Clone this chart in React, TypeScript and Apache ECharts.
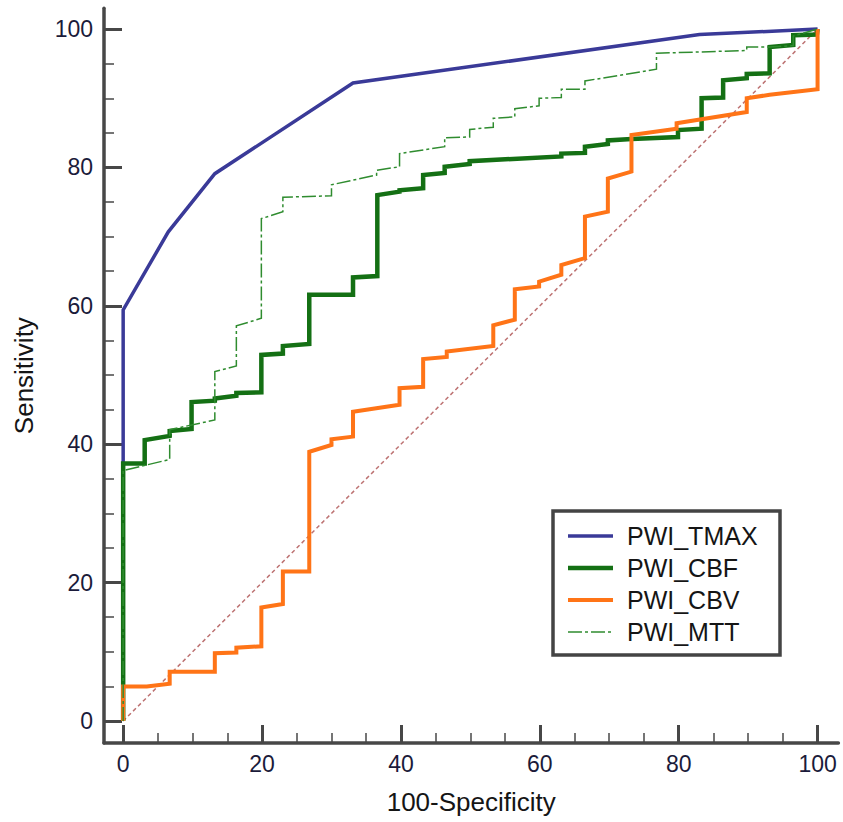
import React, { useEffect, useRef } from "react";
import * as echarts from "echarts";

const seriesNames = ["PWI_TMAX", "PWI_CBF", "PWI_CBV", "PWI_MTT"];
const majorTicks = [0, 20, 40, 60, 80, 100];
const minorTicks = [5, 10, 15, 25, 30, 35, 45, 50, 55, 65, 70, 75, 85, 90, 95];

const tmax: number[][] = [
  [0, 0], [0, 59.4], [6.5, 70.7], [13.2, 79.1], [33.1, 92.2], [83.0, 99.2], [100, 100],
];

const cbf: number[][] = [
  [0, 0], [0, 37.2], [3.1, 37.2], [3.1, 40.6], [6.7, 41.2], [6.7, 41.9], [9.85, 42.2],
  [9.85, 46.1], [13.2, 46.3], [13.2, 46.6], [16.3, 47.0], [16.3, 47.4], [19.9, 47.5],
  [19.9, 52.9], [23.0, 53.1], [23.0, 54.2], [26.8, 54.5], [26.8, 61.6], [33.1, 61.6],
  [33.1, 64.1], [36.6, 64.3], [36.6, 76.0], [39.8, 76.5], [39.8, 76.7], [43.2, 77.0],
  [43.2, 78.9], [46.3, 79.2], [46.3, 80.1], [49.9, 80.5], [49.9, 80.9], [63.1, 81.6],
  [63.1, 82.0], [66.5, 82.1], [66.5, 83.0], [69.8, 83.4], [69.8, 83.9], [73.2, 84.1],
  [79.9, 84.4], [79.9, 85.4], [83.3, 85.6], [83.3, 90.0], [86.4, 90.1], [86.4, 92.6],
  [89.8, 92.9], [89.8, 93.5], [93.1, 93.6], [93.1, 97.4], [96.5, 97.7], [96.5, 99.1],
  [99.9, 99.2], [100, 100],
];

const cbv: number[][] = [
  [0, 0], [0, 5.0], [3.4, 5.0], [6.7, 5.4], [6.7, 7.1], [13.2, 7.1], [13.2, 9.8],
  [16.3, 9.9], [16.3, 10.6], [19.9, 10.8], [19.9, 16.4], [23.0, 16.9], [23.0, 21.6],
  [26.8, 21.6], [26.8, 38.9], [30.0, 39.9], [30.0, 40.7], [33.1, 41.1], [33.1, 44.7],
  [39.8, 45.7], [39.8, 48.1], [43.2, 48.3], [43.2, 52.3], [46.6, 52.6], [46.6, 53.4],
  [53.3, 54.2], [53.3, 57.2], [56.4, 58.0], [56.4, 62.4], [59.9, 62.8], [59.9, 63.5],
  [63.1, 64.5], [63.1, 65.9], [66.5, 66.9], [66.5, 72.9], [69.8, 73.6], [69.8, 78.4],
  [73.2, 79.4], [73.2, 84.7], [79.7, 85.6], [79.7, 86.4], [89.8, 88.0], [89.8, 90.0],
  [93.1, 90.5], [100, 91.3], [100, 100],
];

const mtt: number[][] = [
  [0, 0], [0, 36.2], [6.7, 37.8], [6.7, 42.1], [13.2, 43.5], [13.2, 50.5], [16.3, 51.3],
  [16.3, 57.1], [19.9, 58.2], [19.9, 72.6], [23.0, 73.6], [23.0, 75.7], [30.0, 75.9],
  [30.0, 77.5], [36.5, 78.9], [36.5, 79.6], [39.8, 80.1], [39.8, 82.0], [46.3, 83.0],
  [46.3, 84.3], [49.9, 84.4], [49.9, 85.5], [53.3, 85.8], [53.3, 87.1], [56.4, 87.3],
  [56.4, 88.5], [59.9, 88.9], [59.9, 90.0], [63.1, 90.1], [63.1, 91.3], [66.5, 91.3],
  [66.5, 92.5], [76.8, 94.2], [76.8, 96.5], [89.8, 96.9], [89.8, 97.4], [93.1, 97.4],
  [96.5, 97.6], [96.5, 99.0], [100, 100],
];

const diagonal: number[][] = [[0, 0], [100, 100]];

const colors = ["#3a3a98", "#147014", "#ff7417", "#2f8c2f"];
const widths = [3.5, 4.5, 4, 1.5];
const mttDash = [14, 3, 3, 3];

const FONT = "'Liberation Sans', Arial, sans-serif";
const AXIS_COLOR = "#474747";
const X_MIN = -2.76, X_MAX = 103.0, Y_MIN = -3.18, Y_MAX = 103.0;

export default function App() {
  const ref = useRef<HTMLDivElement>(null);

  useEffect(() => {
    document.body.style.margin = "0";
    const chart = echarts.init(ref.current!, null, { renderer: "svg" });

    const axisCommon = (isX: boolean) => ({
      type: "value" as const,
      min: isX ? X_MIN : Y_MIN,
      max: isX ? X_MAX : Y_MAX,
      splitLine: { show: false },
    });

    const legendX = 553, legendY = 511;
    const rowY = [536, 568, 600, 632];
    const legendElems: any[] = [
      {
        type: "rect",
        shape: { x: legendX, y: legendY, width: 227, height: 144 },
        style: { fill: "#ffffff", stroke: "#444444", lineWidth: 3.5 },
        z: 100,
      },
    ];
    seriesNames.forEach((n, i) => {
      legendElems.push({
        type: "line",
        shape: { x1: 568, y1: rowY[i], x2: 613, y2: rowY[i] },
        style: {
          stroke: colors[i],
          lineWidth: i === 3 ? 1.5 : widths[i],
          lineDash: i === 3 ? mttDash : null,
        },
        z: 101,
      });
      legendElems.push({
        type: "text",
        x: 627,
        y: rowY[i],
        style: {
          text: n,
          fill: "#151515",
          font: `25px ${FONT}`,
          textVerticalAlign: "middle",
          textAlign: "left",
        },
        z: 101,
      });
    });

    const lineSeries = (name: string, data: number[][], i: number) => ({
      name,
      type: "line",
      data,
      symbol: "none",
      xAxisIndex: 0,
      yAxisIndex: 0,
      lineStyle: {
        color: colors[i],
        width: widths[i],
        type: i === 3 ? mttDash : "solid",
        join: "miter",
        cap: "butt",
      },
      z: 3 + i,
    });

    chart.setOption({
      animation: false,
      backgroundColor: "#ffffff",
      textStyle: { fontFamily: FONT },
      grid: { left: 104, top: 8.3, width: 734.4, height: 734.7, containLabel: false },
      xAxis: [
        {
          ...axisCommon(true),
          position: "bottom",
          name: "100-Specificity",
          nameLocation: "middle",
          nameGap: 46,
          nameTextStyle: { fontSize: 26, color: "#151515", fontFamily: FONT },
          axisLine: { show: true, onZero: false, lineStyle: { color: AXIS_COLOR, width: 3.5 } },
          axisTick: {
            show: true,
            inside: true,
            length: 18,
            customValues: majorTicks,
            lineStyle: { color: AXIS_COLOR, width: 3 },
          },
          axisLabel: {
            show: true,
            customValues: majorTicks,
            margin: 9,
            fontSize: 23,
            color: "#1b1b3a",
            fontFamily: FONT,
          },
        },
        {
          ...axisCommon(true),
          position: "bottom",
          axisLine: { show: false, onZero: false },
          axisTick: {
            show: true,
            inside: true,
            length: 10,
            customValues: minorTicks,
            lineStyle: { color: AXIS_COLOR, width: 1.5 },
          },
          axisLabel: { show: false },
        },
      ],
      yAxis: [
        {
          ...axisCommon(false),
          position: "left",
          name: "Sensitivity",
          nameLocation: "middle",
          nameGap: 67,
          nameRotate: 90,
          nameTextStyle: { fontSize: 26, color: "#151515", fontFamily: FONT },
          axisLine: { show: true, onZero: false, lineStyle: { color: AXIS_COLOR, width: 3.5 } },
          axisTick: {
            show: true,
            inside: true,
            length: 18,
            customValues: majorTicks,
            lineStyle: { color: AXIS_COLOR, width: 3 },
          },
          axisLabel: {
            show: true,
            customValues: majorTicks,
            margin: 11,
            fontSize: 23,
            color: "#1b1b3a",
            fontFamily: FONT,
          },
        },
        {
          ...axisCommon(false),
          position: "left",
          axisLine: { show: false, onZero: false },
          axisTick: {
            show: true,
            inside: true,
            length: 10,
            customValues: minorTicks,
            lineStyle: { color: AXIS_COLOR, width: 1.5 },
          },
          axisLabel: { show: false },
        },
      ],
      series: [
        {
          name: "diagonal",
          type: "line",
          data: diagonal,
          symbol: "none",
          lineStyle: { color: "#bd7272", width: 1.5, type: [4, 3] },
          z: 2,
        },
        lineSeries(seriesNames[0], tmax, 0),
        lineSeries(seriesNames[1], cbf, 1),
        lineSeries(seriesNames[2], cbv, 2),
        lineSeries(seriesNames[3], mtt, 3),
      ],
      graphic: { elements: legendElems },
    });

    return () => chart.dispose();
  }, []);

  return <div ref={ref} style={{ width: 843, height: 822 }} />;
}
